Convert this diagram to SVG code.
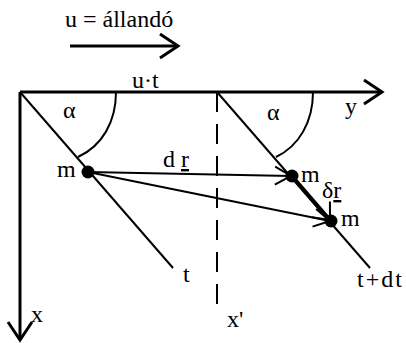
<svg xmlns="http://www.w3.org/2000/svg" width="406" height="343" viewBox="0 0 406 343">
<defs>
<style>
.ln{stroke:#000;fill:none;stroke-linecap:butt}
.ax{stroke-width:3}
.dg{stroke-width:2}
.vc{stroke-width:2}
</style>
<marker id="big" markerUnits="userSpaceOnUse" markerWidth="40" markerHeight="40" refX="0" refY="0" viewBox="-20 -20 40 40" orient="auto" overflow="visible">
<path d="M-18,-12 L0,0 L-18,12" fill="none" stroke="#000" stroke-width="3"/>
</marker>
<marker id="sm" markerUnits="userSpaceOnUse" markerWidth="40" markerHeight="40" refX="0" refY="0" viewBox="-20 -20 40 40" orient="auto" overflow="visible">
<path d="M-16,-9 L0,0 L-16,9" fill="none" stroke="#000" stroke-width="2"/>
</marker>
<marker id="dl" markerUnits="userSpaceOnUse" markerWidth="40" markerHeight="40" refX="0" refY="0" viewBox="-20 -20 40 40" orient="auto" overflow="visible">
<path d="M-14,-12 L0,0 L-14,12" fill="none" stroke="#000" stroke-width="2"/>
</marker>
</defs>
<g id="connectors">
<line class="ln ax" x1="70" y1="46" x2="178" y2="46" marker-end="url(#big)"/>
<line class="ln ax" x1="20" y1="92" x2="382" y2="92" marker-end="url(#big)"/>
<line class="ln ax" x1="20" y1="92" x2="20" y2="340" marker-end="url(#big)"/>
<line class="ln dg" x1="217" y1="92" x2="217" y2="310" stroke-dasharray="20 12"/>
<line class="ln dg" x1="20" y1="92" x2="173" y2="268"/>
<line class="ln dg" x1="217" y1="92" x2="370" y2="268"/>
<path class="ln dg" d="M116,92 C116,122 102,146 78,157"/>
<path class="ln dg" d="M313,92 C313,122 299,146 276,157"/>
<line class="ln vc" x1="88" y1="172" x2="291" y2="176" marker-end="url(#sm)"/>
<line class="ln vc" x1="88" y1="172" x2="330" y2="221" marker-end="url(#sm)"/>
<line class="ln" stroke-width="3.5" x1="292" y1="176" x2="330" y2="220" marker-end="url(#dl)"/>
</g>
<g id="m1" font-family="Liberation Serif, serif" font-size="24"><circle cx="88" cy="172" r="6.5"/><text x="57" y="177">m</text></g>
<g id="m2" font-family="Liberation Serif, serif" font-size="24"><circle cx="292" cy="176" r="6.5"/><text x="301" y="182">m</text></g>
<g id="m3" font-family="Liberation Serif, serif" font-size="24"><circle cx="331" cy="221" r="6.5"/><text x="341" y="226">m</text></g>
<g id="labels" font-family="Liberation Serif, serif" font-size="24">
<text x="65" y="27">u = állandó</text>
<text x="132" y="88">u·t</text>
<text x="63" y="118">α</text>
<text x="267" y="120">α</text>
<text x="345" y="114">y</text>
<text x="163" y="167">d <tspan text-decoration="underline">r</tspan></text>
<text x="322" y="198">δ<tspan text-decoration="underline">r</tspan></text>
<text x="183" y="282">t</text>
<text x="357" y="287" letter-spacing="2">t+dt</text>
<text x="31" y="322">x</text>
<text x="227" y="327">x'</text>
</g>
</svg>
